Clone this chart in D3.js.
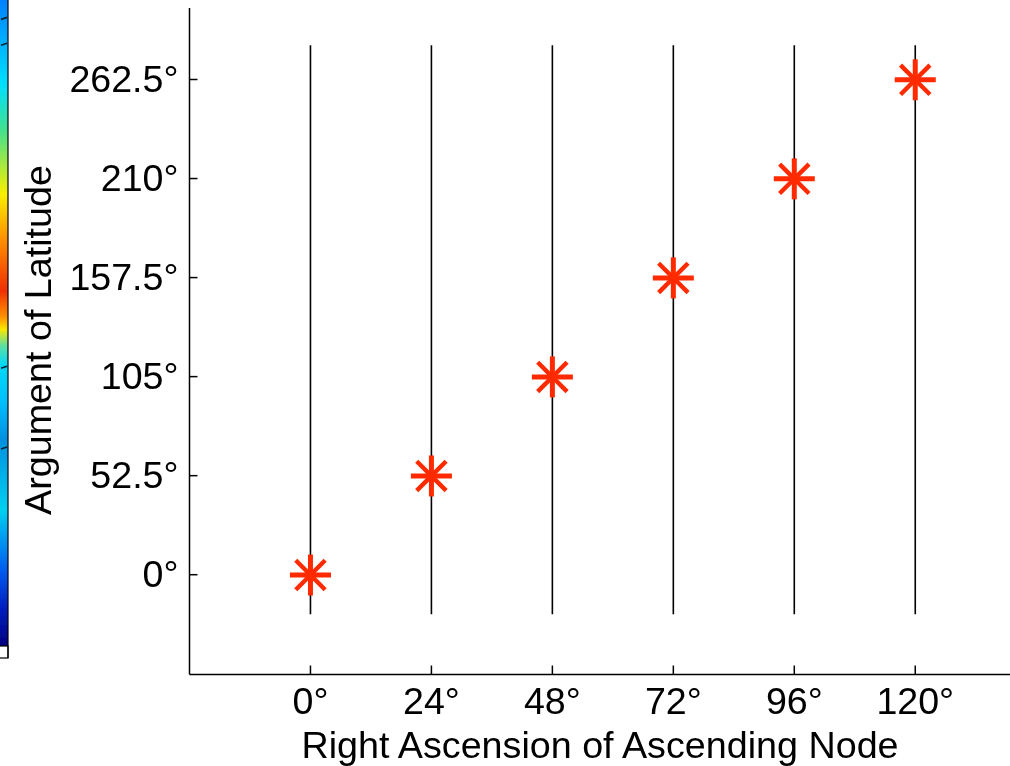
<!DOCTYPE html>
<html><head><meta charset="utf-8">
<script src="https://cdn.jsdelivr.net/npm/d3@7"></script>
<style>html,body{margin:0;padding:0;background:#fff;overflow:hidden}svg{display:block}text{font-family:"Liberation Sans",Arial,sans-serif;fill:#000}</style>
</head><body><svg id="c" width="1010" height="766"></svg>
<script>
const raan = [0, 24, 48, 72, 96, 120];
const argLat = [0, 52.5, 105, 157.5, 210, 262.5];
const xTickLabels = ["0°","24°","48°","72°","96°","120°"];
const yTickLabels = ["0°","52.5°","105°","157.5°","210°","262.5°"];
const barStops = [0,0.13,0.2,0.3,0.37,0.45,0.49,0.51,0.535,0.565,0.62,0.68,0.79,0.88,0.94,1];
const barColors = ["#0080ff","#00e0ff","#40e090","#f8f000","#ff9000","#f03000","#ff9000","#f8e800","#60e0a0","#00d8f8","#00c0ff","#0090e0","#00d0f0","#0060f0","#0020c0","#000080"];
const coastMarks = [0.03,0.07,0.57,0.695];
const xTitle = "Right Ascension of Ascending Node";
const yTitle = "Argument of Latitude";
const svg = d3.select("#c");
const x = d3.scaleLinear().domain([-24,138.8]).range([189.5,1010]);
const y = d3.scaleLinear().domain([-52.9,300.4]).range([674.5,8]);
const barY = d3.scaleLinear().domain([0,1]).range([0,646]);
const defs = svg.append("defs");
const g = defs.append("linearGradient").attr("id","bar").attr("x1",0).attr("x2",0).attr("y1",0).attr("y2",1);
barStops.forEach((s,i)=>g.append("stop").attr("offset",s).attr("stop-color",barColors[i]));
defs.append("filter").attr("id","soft").attr("x",0).attr("y",0).attr("width",1).attr("height",1)
  .append("feGaussianBlur").attr("stdDeviation",0.5);
const root = svg.append("g").attr("filter","url(#soft)");
root.append("rect").attr("width",1010).attr("height",766).attr("fill","#fff");
root.append("rect").attr("x",0).attr("y",0).attr("width",8).attr("height",646).attr("fill","url(#bar)");
root.append("g").selectAll("line").data(coastMarks).join("line")
  .attr("x1",1).attr("x2",7).attr("y1",d=>barY(d)).attr("y2",d=>barY(d)-2).attr("stroke","#123").attr("stroke-width",1.6);
root.append("rect").attr("x",-2).attr("y",646).attr("width",10).attr("height",12).attr("fill","#fff").attr("stroke","#000").attr("stroke-width",1.2);
root.append("line").attr("x1",8).attr("x2",8).attr("y1",0).attr("y2",658).attr("stroke","#000").attr("stroke-width",1.2);
const xa = root.append("g").attr("transform","translate(0,674.5)").call(d3.axisBottom(x).offset(0).tickValues(raan).tickFormat((d,i)=>xTickLabels[i]).tickSizeInner(-9).tickSizeOuter(0).tickPadding(13));
const ya = root.append("g").attr("transform","translate(189.5,0)").call(d3.axisLeft(y).offset(0).tickValues(argLat).tickFormat((d,i)=>yTickLabels[i]).tickSizeInner(-8).tickSizeOuter(0).tickPadding(11));
[xa,ya].forEach(a=>{a.selectAll("path,line").attr("stroke","#000").attr("stroke-width",1.5);a.selectAll("text").attr("font-size",37.6).attr("font-family",'"Liberation Sans",Arial,sans-serif');});
root.append("g").selectAll("line").data(raan).join("line")
 .attr("x1",d=>x(d)).attr("x2",d=>x(d)).attr("y1",y(280.6)).attr("y2",y(-21)).attr("stroke","#000").attr("stroke-width",1.6);
const r=20.5, rd=14.7;
const spokes=[[r,0,5],[0,r,5],[rd,rd,4.4],[rd,-rd,4.4]];
const m = root.append("g").selectAll("g").data(raan).join("g").attr("transform",(d,i)=>`translate(${x(d)},${y(argLat[i])+0.3})`);
spokes.forEach(s=>m.append("line").attr("x1",-s[0]).attr("y1",-s[1]).attr("x2",s[0]).attr("y2",s[1]).attr("stroke","#ff2a00").attr("stroke-width",s[2]));
root.append("text").attr("x",600).attr("y",758).attr("text-anchor","middle").attr("font-size",37.7).text(xTitle);
root.append("text").attr("transform","translate(51,340) rotate(-90)").attr("text-anchor","middle").attr("font-size",37.7).text(yTitle);
</script></body></html>
